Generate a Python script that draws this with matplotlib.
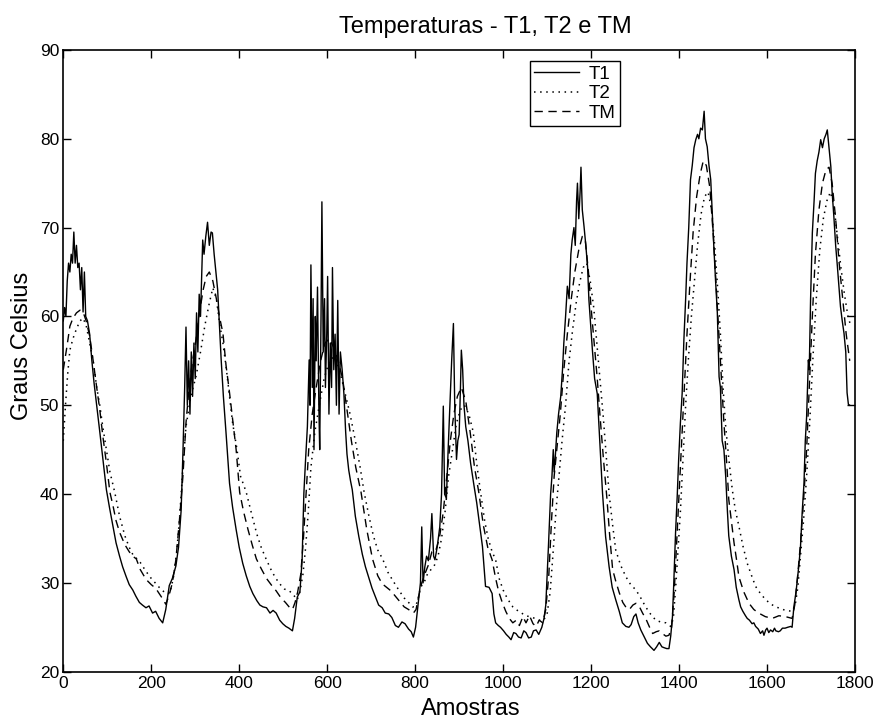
import matplotlib
matplotlib.use("Agg")
import matplotlib.pyplot as plt

plt.rcParams['font.family'] = ['Liberation Sans', 'DejaVu Sans']

# ---------------- data ----------------
t1_x = [0, 3, 6, 9, 12, 15, 18, 21, 24, 27, 30, 33, 36, 39, 42, 45, 48, 51, 55, 60,
        65, 70, 76, 83, 90, 98, 105, 113, 120, 128, 135, 143, 150, 158, 165, 173, 180,
        188, 195, 203, 210, 218, 226, 233, 241, 248, 256, 262, 268,
        272, 276, 279, 282, 285, 288, 291, 294, 297, 300, 303, 306, 309, 312, 317, 320,
        324, 328, 332, 336, 339, 343, 347, 351, 355, 359, 364, 370, 378, 385, 393, 400,
        408, 416, 424, 431, 440, 447, 454, 462, 470, 477, 484, 492, 499, 506, 513, 521,
        526, 532, 538, 543, 547, 551, 555, 559,
        561, 563, 566, 568, 570, 573, 575, 578, 581, 583, 586, 588, 591, 594, 596, 599,
        601, 604, 607, 610, 612, 615, 618, 621, 624, 627, 630, 634, 638, 642, 645, 649,
        653, 657, 664, 672, 680, 687, 695, 702, 710, 717, 725, 732, 740, 747, 755, 762,
        770, 777, 785, 791, 796, 801, 807, 812, 815, 818, 822, 826, 830, 835, 838, 842,
        845, 850, 856, 860, 864, 867, 871, 875, 879, 883, 887, 890, 894, 897, 900, 903,
        905, 908, 911, 915, 920, 926, 933, 940, 945, 953, 960, 968, 975, 979, 983, 989,
        994, 1001, 1007, 1013, 1018, 1024, 1029, 1035, 1041, 1047, 1052, 1058, 1064, 1069,
        1075, 1081, 1088, 1093, 1097, 1103, 1108, 1111, 1114, 1116, 1119, 1122, 1126,
        1131, 1135, 1138, 1142, 1146, 1150, 1154, 1157, 1161, 1164, 1167, 1169, 1172,
        1175, 1177, 1180, 1184, 1188, 1192, 1195, 1199, 1203, 1208, 1214, 1218, 1222,
        1226, 1233, 1241, 1248, 1256, 1264, 1271, 1279, 1286, 1291, 1297, 1302, 1307,
        1313, 1320, 1328, 1335, 1343, 1349, 1355, 1361, 1366, 1372, 1377, 1381, 1385,
        1388, 1392, 1396, 1399, 1403, 1407, 1411, 1415, 1418, 1422, 1426, 1430, 1434,
        1438, 1442, 1445, 1449, 1453, 1457, 1460, 1464, 1468, 1472, 1476, 1479, 1483,
        1487, 1491, 1494, 1498, 1502, 1506, 1510, 1513, 1519, 1525, 1530, 1536, 1540,
        1545, 1551, 1555, 1560, 1566, 1570, 1574, 1580, 1585, 1590, 1593, 1597, 1600,
        1604, 1608, 1613, 1617, 1620, 1626, 1630, 1635, 1641, 1647, 1654, 1657, 1661,
        1666, 1672, 1676, 1680, 1684, 1687, 1690, 1694, 1696, 1699, 1703, 1707, 1710,
        1714, 1718, 1722, 1726, 1730, 1734, 1737, 1741, 1745, 1748, 1752, 1756, 1760,
        1764, 1767, 1771, 1775, 1779, 1782, 1785, 1788]
t1_y = [59.5, 61, 60, 64, 66, 65, 67, 66, 69.5, 66, 68, 65.5, 66, 63, 65.5, 60.5, 65, 60, 59.5, 58,
        55, 52.5, 50, 47, 44, 40.5, 38.5, 36.4, 34.5, 33, 31.8, 30.7, 29.8, 29.2, 28.5, 27.8, 27.5,
        27.2, 27.4, 26.6, 26.8, 26, 25.5, 27, 29.7, 30.5, 31.9, 34, 38.2,
        44.6, 52, 58.8, 50, 55, 49, 56, 51, 57, 53, 60.4, 56, 62.5, 60, 68.6, 67,
        69, 70.6, 68, 69.5, 69.4, 67, 65, 63, 59, 55.1, 51, 46.9, 41.2, 38.5, 36.0, 34,
        32.2, 30.8, 29.6, 28.8, 28, 27.5, 27.3, 27.2, 26.6, 26.9, 26.6, 25.8, 25.4, 25.1, 24.9, 24.6,
        26, 28.4, 29, 32.6, 40.1, 44, 47.6, 55.1,
        50, 65.8, 52, 62, 45, 60, 55, 63.3, 50, 45, 60, 72.9, 56, 62, 52, 58,
        64.5, 49, 57, 52, 65.5, 54, 58, 50, 61.8, 49, 56, 54, 51.3, 47, 44.5, 42.7,
        41.5, 40.5, 37.5, 35.2, 33.2, 31.8, 30.5, 29.4, 28.4, 27.5, 27.2, 26.6, 26.5, 26.1, 25.2, 25.0,
        25.6, 25.4, 24.8, 24.5, 23.9, 25, 27.7, 30, 36.3, 30, 31.8, 33, 32.5, 35, 37.8, 33,
        32.6, 34, 36.3, 40, 49.9, 40, 39.5, 45, 50, 55, 59.2, 50, 43.9, 46, 46.7, 52,
        56.2, 54, 50, 47.6, 46, 43.5, 41.2, 39, 37.1, 34.1, 29.6, 29.5, 28.8, 26.5, 25.5, 25.2,
        25, 24.6, 24.2, 23.9, 23.6, 24.4, 24.3, 23.9, 23.8, 24.6, 24.4, 23.8, 23.9, 24.6,
        24.7, 24.2, 25, 26, 27.5, 34.1, 40, 42, 45, 42.5, 44.5, 46.9, 49,
        51, 54, 57, 60, 63.4, 62, 67, 68.6, 70, 68, 73, 75, 71,
        74, 76.8, 72, 70.1, 68, 65.6, 61.9, 59, 56.2, 53, 51.3, 47.6, 44,
        40.1, 35.2, 31.8, 29.5, 28.1, 26.8, 25.5, 25.1, 25.0, 25.3, 26.2, 26.5, 25.5,
        24.7, 24, 23.2, 22.8, 22.4, 22.8, 23.3, 22.8, 22.7, 22.6, 22.6, 24, 26.2,
        30, 35.6, 40, 43.8, 48, 51.3, 57.4, 62, 66, 70, 75.4, 77, 79,
        79.9, 80.5, 80, 81.2, 81, 83.1, 80, 79.1, 77, 75.4, 71, 67.9, 64,
        60.4, 53.2, 52, 46, 45, 42, 38, 35.3, 33, 31.5, 29.5, 28.1, 27.3,
        26.8, 26.3, 26.0, 25.8, 25.4, 25.5, 25.1, 24.8, 24.3, 24.6, 24.1, 24.7, 24.9,
        24.4, 24.7, 24.5, 24.9, 24.6, 24.5, 24.6, 24.9, 24.9, 25, 25.1, 25.0, 27.3,
        29, 31.8, 34, 38, 41.2, 46, 48.7, 55.1, 54, 61.9, 69.4, 73, 76.1,
        77.5, 78.5, 79.9, 79, 80, 80.5, 81, 79, 76.9, 74, 71.2, 68, 65.6,
        63, 61.1, 59.5, 58.1, 56, 51.4, 50.1, 50]

tm_x = [0, 8, 15, 22, 30, 38, 45, 52, 60, 68, 76, 83, 90, 98, 106, 113, 120, 128, 140, 150,
        158, 166, 175, 188, 200, 210, 218, 226, 233, 240, 248, 256, 264, 272, 279, 286, 294,
        302, 310, 318, 325, 332, 340, 348, 355, 363, 370, 378, 386, 393, 401, 410, 420, 430,
        439, 450, 462, 474, 484, 495, 505, 515, 521, 527, 533, 540, 546, 552, 558, 566, 575,
        585, 595, 605, 615, 625, 635, 645, 655, 665, 677, 690, 703, 715, 725, 735, 745, 755,
        765, 775, 785, 796, 802, 808, 815, 822, 830, 838, 846, 855, 864, 872, 880, 888, 896,
        905, 915, 925, 935, 945, 955, 965, 975, 983, 990, 998, 1006, 1014, 1022, 1030, 1037,
        1045, 1052, 1060, 1068, 1075, 1082, 1090, 1097, 1104, 1110, 1116, 1122, 1130, 1138,
        1146, 1155, 1163, 1172, 1180, 1187, 1194, 1200, 1207, 1214, 1220, 1228, 1236, 1242,
        1249, 1256, 1264, 1272, 1280, 1287, 1295, 1302, 1310, 1317, 1325, 1333, 1340, 1348,
        1355, 1362, 1370, 1377, 1383, 1389, 1395, 1400, 1406, 1412, 1418, 1425, 1432, 1440,
        1448, 1455, 1462, 1470, 1478, 1486, 1494, 1502, 1509, 1513, 1519, 1525, 1531, 1536,
        1547, 1559, 1570, 1581, 1596, 1612, 1627, 1642, 1657, 1663, 1670, 1677, 1684, 1690,
        1696, 1703, 1710, 1718, 1726, 1734, 1741, 1748, 1756, 1764, 1772, 1780, 1788]
tm_y = [54, 56.5, 58.9, 59.8, 60.4, 60.7, 60.5, 59.5, 57.8, 55, 52, 49.5, 46.5, 43.5, 40.2, 38.7, 37, 35.7, 34.3, 33.5,
        33.0, 32.7, 31.5, 30.4, 29.8, 29.4, 28.8, 28.2, 27.6, 28.5, 30, 32.6, 37, 42, 48, 52, 55,
        57.5, 60.5, 63, 64.5, 65, 64, 62, 60, 58.1, 54.5, 51.4, 48, 45, 40.2, 38, 36, 34.2,
        32.7, 31.6, 30.5, 29.7, 29.1, 28.3, 27.8, 27.2, 27.0, 27.8, 29, 31, 35, 40, 45, 49, 52,
        55, 57, 57.5, 56.5, 55, 53, 49.5, 46, 43, 40.2, 36, 32.7, 30.8, 29.9, 29.5, 29.1, 28.5,
        27.9, 27.3, 27.0, 26.6, 27, 28.5, 30, 31, 32, 33.5, 33.5, 35, 38, 42, 46, 49, 51,
        52, 50.5, 47, 43, 40.1, 36.5, 34, 32.6, 30.5, 29, 27.8, 26.8, 26.0, 25.5, 25.8, 25.2,
        26.2, 25.5, 26.3, 25.4, 25.1, 25.8, 25.5, 27, 31, 37, 42, 45, 49, 54,
        58, 62, 65, 67.5, 69, 68.5, 65, 61, 57, 53, 49, 44, 39.5, 35.5,
        31.5, 30.2, 28.9, 27.8, 27.2, 27.0, 27.5, 27.7, 27.3, 26.6, 25.9, 25.0, 24.3, 24.5,
        24.6, 24.3, 24.0, 24.1, 25, 29, 35, 40, 46, 52, 58, 64, 69.5, 73.5,
        76, 77.5, 77, 74.5, 69, 62, 55, 48, 43, 39.4, 37, 34.5, 32.5, 30.7,
        29, 27.7, 27, 26.6, 26.2, 26.0, 26.3, 26.2, 26.0, 27.5, 31, 35, 40, 45,
        52, 60, 67, 72, 75, 76.5, 76.8, 75, 71, 66, 62, 58, 55]

t2_x = [0, 5, 10, 15, 22, 30, 38, 45, 52, 60, 68, 76, 83, 90, 98, 106, 117, 128, 140, 150,
        158, 175, 188, 200, 218, 233, 242, 250, 257, 264, 272, 279, 290, 302, 312, 322, 332,
        340, 348, 356, 363, 370, 378, 385, 395, 403, 416, 428, 440, 450, 461, 475, 490, 503,
        514, 524, 532, 538, 545, 551, 557, 563, 572, 582, 593, 605, 617, 628, 640, 652, 664,
        675, 684, 695, 705, 715, 726, 738, 750, 764, 775, 785, 794, 800, 806, 812, 820, 828,
        836, 844, 852, 860, 868, 876, 885, 894, 903, 912, 922, 932, 941, 949, 958, 966, 975,
        983, 991, 1000, 1010, 1022, 1035, 1052, 1067, 1082, 1092, 1100, 1107, 1113, 1120,
        1127, 1134, 1142, 1150, 1158, 1166, 1174, 1182, 1190, 1198, 1206, 1213, 1220, 1228,
        1235, 1241, 1249, 1256, 1267, 1279, 1290, 1302, 1313, 1324, 1335, 1347, 1358, 1370,
        1381, 1387, 1393, 1398, 1403, 1409, 1415, 1421, 1428, 1435, 1442, 1450, 1458, 1466,
        1474, 1481, 1488, 1494, 1500, 1506, 1513, 1521, 1528, 1536, 1545, 1555, 1565, 1574,
        1585, 1597, 1609, 1620, 1631, 1642, 1657, 1664, 1670, 1676, 1683, 1690, 1697, 1704,
        1712, 1720, 1728, 1736, 1744, 1752, 1760, 1768, 1776, 1784, 1790]
t2_y = [46, 50, 53.5, 56.2, 57.5, 58.6, 59.5, 59.8, 59, 57, 55, 52, 50, 47.5, 45, 42.5, 40.2, 37.5, 35.3, 34,
        33.2, 32.3, 31.3, 30.5, 29.5, 28.8, 28.8, 30.5, 33, 37, 43, 47.6, 51, 53.3, 56, 59, 61.5,
        63.2, 62, 59, 57, 54.4, 51, 48, 45, 42, 40.2, 37.8, 35.5, 34, 32.7, 31.2, 30, 29.3,
        29.1, 28.6, 28.1, 29, 31, 34, 38, 43, 47, 50, 53, 55, 55.5, 54, 51.5, 49, 46,
        43, 40.2, 37.5, 35.3, 33.7, 32.7, 31.2, 30.2, 29.1, 28.3, 27.8, 27.3, 27.3, 28, 29.5, 30, 31,
        31.5, 32, 33, 35, 38, 42, 45, 48, 49.5, 50, 49, 47, 43, 40.1, 37, 35, 33.5,
        32.6, 30.5, 29.2, 28.2, 27.3, 26.8, 26.3, 26.1, 25.8, 25.8, 26.5, 29, 33, 38,
        42, 46, 50, 55, 58.5, 61.5, 63.8, 65.5, 66, 64, 61, 57, 53, 48.5,
        44, 40, 36.5, 33.7, 32, 30.7, 29.8, 29.2, 28.3, 27.3, 26.5, 25.8, 25.6, 25.5,
        25.1, 26, 30, 34, 38, 44, 50, 55, 60, 64, 68, 71.5, 73.5, 74,
        72, 68, 63, 58, 52, 47.6, 44, 40.5, 38.2, 36.4, 34.2, 32.2, 30.8, 29.6,
        28.8, 28.1, 27.6, 27.3, 27.1, 26.9, 26.8, 27.5, 29.5, 33, 37, 42, 48, 55,
        62, 67.5, 71, 73, 74, 72.5, 69, 65.5, 62.5, 60, 59]

series_labels = ['T1', 'T2', 'TM']
x_ticks = [0, 200, 400, 600, 800, 1000, 1200, 1400, 1600, 1800]
y_ticks = [20, 30, 40, 50, 60, 70, 80, 90]

# ---------------- figure ----------------
fig = plt.figure(figsize=(8.85, 7.2), dpi=100)
ax = fig.add_axes([0.0715, 0.0671, 0.8946, 0.8635])

ax.plot(t1_x, t1_y, color='black', linestyle='-', linewidth=1.0, label=series_labels[0])
ax.plot(t2_x, t2_y, color='black', linestyle=(0, (1, 3)), linewidth=1.1, label=series_labels[1])
ax.plot(tm_x, tm_y, color='black', linestyle=(0, (6, 4)), linewidth=1.0, label=series_labels[2])

ax.set_xlim(0, 1800)
ax.set_ylim(20, 90)
ax.set_xticks(x_ticks)
ax.set_yticks(y_ticks)
ax.tick_params(direction='in', top=True, right=True, length=6, width=1,
               labelsize=12.5, pad=3)
for s in ax.spines.values():
    s.set_linewidth(1.2)

ax.set_title('Temperaturas - T1, T2 e TM', fontsize=17, x=0.533, pad=12)
ax.set_xlabel('Amostras', fontsize=17)
ax.xaxis.set_label_coords(0.515, -0.042)
ax.set_ylabel('Graus Celsius', fontsize=17)
ax.yaxis.set_label_coords(-0.038, 0.524)

leg = ax.legend(loc='upper left', bbox_to_anchor=(0.589, 0.982), fontsize=13.5,
                frameon=True, fancybox=False, edgecolor='black', framealpha=1,
                handlelength=2.4, handletextpad=0.5, labelspacing=0.12,
                borderpad=0.25, borderaxespad=0)
leg.get_frame().set_linewidth(1.0)

fig.savefig('out.png', dpi=100)
